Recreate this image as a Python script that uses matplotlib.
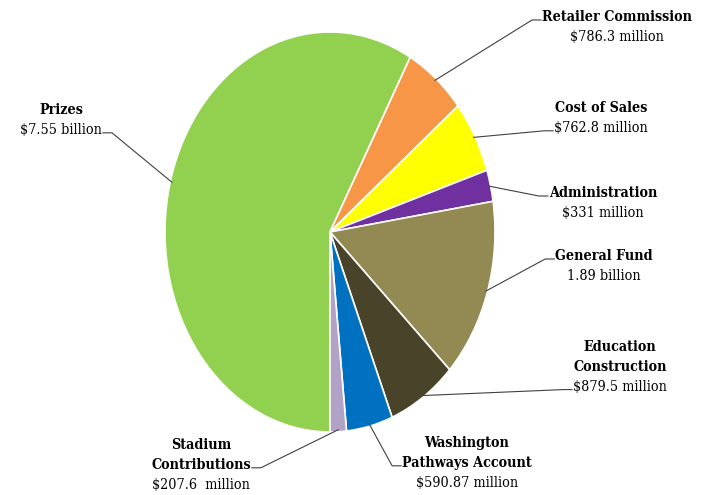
import numpy as np
import matplotlib.pyplot as plt

# data (millions of dollars)
names = ['Prizes', 'Retailer Commission', 'Cost of Sales', 'Administration',
         'General Fund', 'Education\nConstruction', 'Washington\nPathways Account',
         'Stadium\nContributions']
values = [7550, 786.3, 762.8, 331, 1890, 879.5, 590.87, 207.6]
value_text = ['$7.55 billion', '$786.3 million', '$762.8 million', '$331 million',
              '1.89 billion', '$879.5 million', '$590.87 million', '$207.6  million']
colors = ['#92D050', '#F79646', '#FFFF00', '#7030A0',
          '#938953', '#494429', '#0070C0', '#B3A2C7']

# label layout in pixels: text center x, first line y,
# line index the leader attaches to, side of that line ('l' / 'r')
layout = [(61, 110, 1, 'r'), (617, 17, 0, 'l'), (601, 108, 1, 'l'),
          (603, 193, 0, 'l'), (604, 256, 0, 'l'), (620, 347, 2, 'l'),
          (467, 443, 1, 'l'), (201, 445, 1, 'r')]

W, H = 703, 495
cx, cy, rx, ry = 330, 232, 165, 200


def to_data(x, y):
    return (x - cx) / rx, (cy - y) / ry


fig = plt.figure(figsize=(W / 100, H / 100), dpi=100)
ax = fig.add_axes([0, 0, 1, 1])
wedges, _ = ax.pie(values, colors=colors, startangle=270, counterclock=False,
                   wedgeprops=dict(edgecolor='white', linewidth=1.2))
ax.set_aspect('auto')
ax.set_xlim(to_data(0, 0)[0], to_data(W, 0)[0])
ax.set_ylim(to_data(0, H)[1], to_data(0, 0)[1])
ax.axis('off')

font = dict(family='DejaVu Serif', fontstretch='condensed', fontsize=10.3, color='black')
step = 19.8

attach = []
for name, val, (tx, ty, li, side) in zip(names, value_text, layout):
    lines = name.split('\n')
    objs = []
    for i, ln in enumerate(lines):
        objs.append(ax.text(*to_data(tx, ty + i * step), ln, ha='center', va='center',
                            fontweight='bold', **font))
    objs.append(ax.text(*to_data(tx, ty + len(lines) * step), val,
                        ha='center', va='center', **font))
    attach.append((objs[li], side))

fig.canvas.draw()
r = fig.canvas.get_renderer()
inv = ax.transData.inverted()

for w, (t, side) in zip(wedges, attach):
    bb = t.get_window_extent(r)
    px = bb.x1 + 1 if side == 'r' else bb.x0 - 1
    py = (bb.y0 + bb.y1) / 2 - 3
    end = inv.transform((px, py))
    mid = np.deg2rad((w.theta1 + w.theta2) / 2)
    edge = (np.cos(mid) * 0.99, np.sin(mid) * 0.99)
    leg = 9 / rx * (1 if side == 'r' else -1)
    elbow = (end[0] + leg, end[1])
    ax.plot([end[0], elbow[0], edge[0]], [end[1], elbow[1], edge[1]],
            color='#404040', lw=0.8)

fig.savefig('out.png', dpi=100)
